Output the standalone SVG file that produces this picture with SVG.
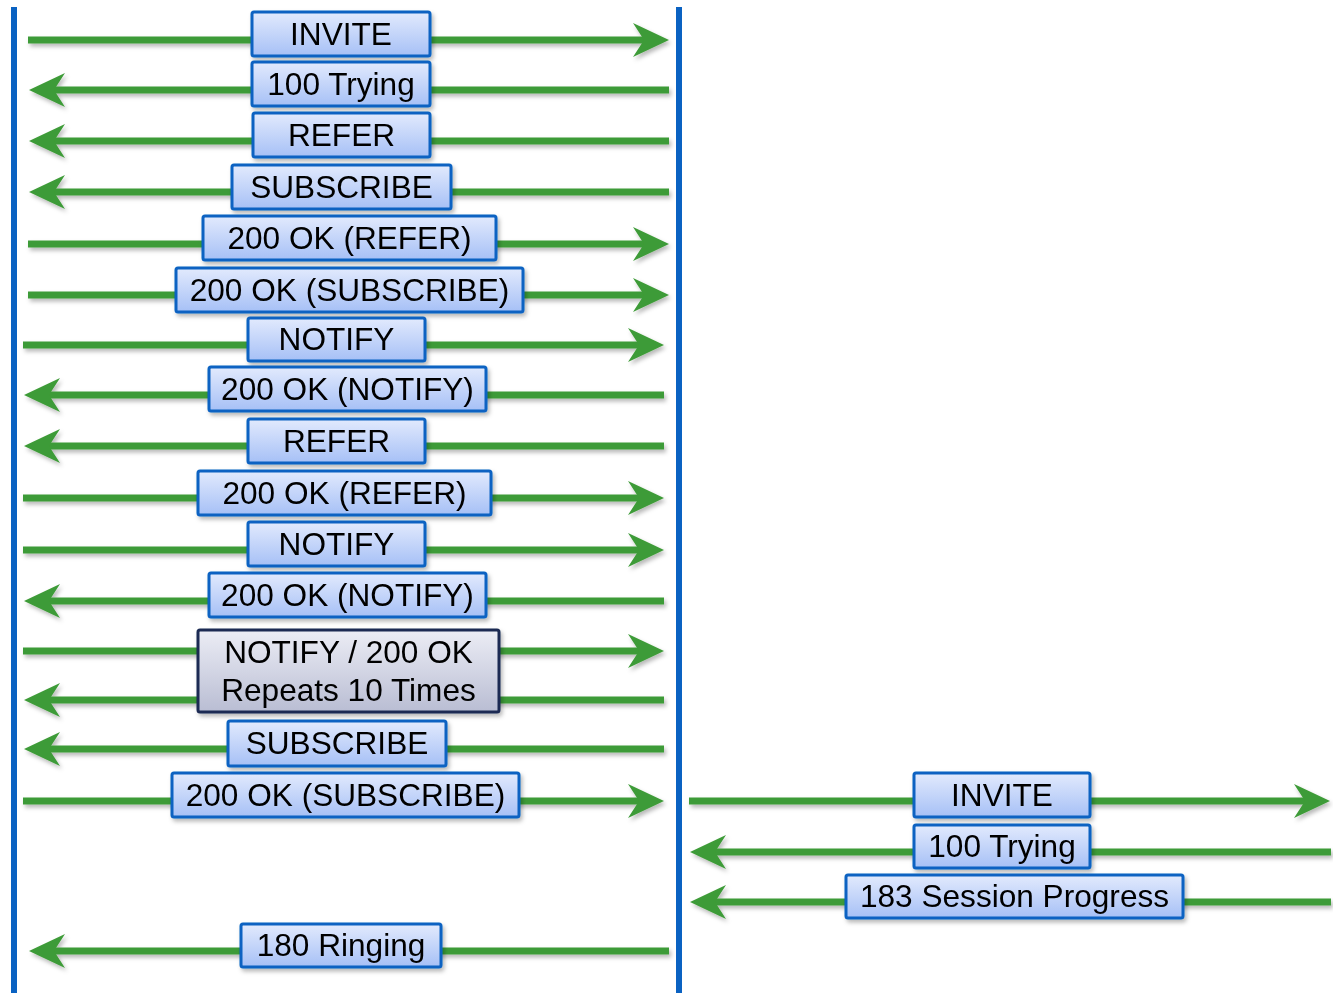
<svg xmlns="http://www.w3.org/2000/svg" width="1333" height="993" viewBox="0 0 1333 993">
<defs>
<linearGradient id="gBlue" x1="0" y1="0" x2="0" y2="1">
<stop offset="0" stop-color="#e2eafd"/>
<stop offset="1" stop-color="#a6c0f6"/>
</linearGradient>
<linearGradient id="gGray" x1="0" y1="0" x2="0" y2="1">
<stop offset="0" stop-color="#ecedf5"/>
<stop offset="1" stop-color="#b9bdd3"/>
</linearGradient>
<filter id="sh" x="-10%" y="-30%" width="130%" height="190%">
<feDropShadow dx="2" dy="3" stdDeviation="2" flood-color="#000" flood-opacity="0.28"/>
</filter>
<marker id="ah" viewBox="0 0 36 34" refX="14" refY="17" markerWidth="36" markerHeight="34" markerUnits="userSpaceOnUse" orient="auto">
<path d="M0,0 L36,17 L0,34 L11,17 Z" fill="#3e9b37"/>
</marker>
</defs>
<style>
.life{stroke:#0a62c2;stroke-width:6;fill:none}
.msg{stroke:#3e9b37;stroke-width:7;fill:none}
.arr{marker-end:url(#ah)}
.box{fill:url(#gBlue);stroke:#0a62c2;stroke-width:3}
.gbox{fill:url(#gGray);stroke:#1b2b52;stroke-width:3}
text{font-family:"Liberation Sans",Arial,sans-serif;font-size:31.6px;fill:#000;text-anchor:middle}
</style>
<rect width="1333" height="993" fill="#fff"/>
<g id="lifelines">
<line class="life" x1="14" y1="7" x2="14" y2="993"/>
<line class="life" x1="679" y1="7" x2="679" y2="993"/>
</g>
<g id="connectors" filter="url(#sh)">
<line class="msg arr" x1="28" y1="40" x2="647" y2="40"/>
<line class="msg arr" x1="669" y1="90" x2="51" y2="90"/>
<line class="msg arr" x1="669" y1="141" x2="51" y2="141"/>
<line class="msg arr" x1="669" y1="192" x2="51" y2="192"/>
<line class="msg arr" x1="28" y1="244" x2="647" y2="244"/>
<line class="msg arr" x1="28" y1="295" x2="647" y2="295"/>
<line class="msg arr" x1="23" y1="345" x2="642" y2="345"/>
<line class="msg arr" x1="664" y1="395" x2="46" y2="395"/>
<line class="msg arr" x1="664" y1="446" x2="46" y2="446"/>
<line class="msg arr" x1="23" y1="498" x2="642" y2="498"/>
<line class="msg arr" x1="23" y1="550" x2="642" y2="550"/>
<line class="msg arr" x1="664" y1="601" x2="46" y2="601"/>
<line class="msg arr" x1="23" y1="651" x2="642" y2="651"/>
<line class="msg arr" x1="664" y1="700" x2="46" y2="700"/>
<line class="msg arr" x1="664" y1="749" x2="46" y2="749"/>
<line class="msg arr" x1="23" y1="801" x2="642" y2="801"/>
<line class="msg arr" x1="669" y1="951" x2="51" y2="951"/>
<line class="msg arr" x1="689" y1="801" x2="1308" y2="801"/>
<line class="msg arr" x1="1331" y1="852" x2="712" y2="852"/>
<line class="msg arr" x1="1331" y1="902" x2="712" y2="902"/>
</g>
<g id="n1" filter="url(#sh)"><rect class="box" x="252" y="12" width="178" height="44" rx="2"/><text x="341" y="45">INVITE</text></g>
<g id="n2" filter="url(#sh)"><rect class="box" x="252" y="62" width="178" height="44" rx="2"/><text x="341" y="95">100 Trying</text></g>
<g id="n3" filter="url(#sh)"><rect class="box" x="253" y="113" width="177" height="44" rx="2"/><text x="341.5" y="146">REFER</text></g>
<g id="n4" filter="url(#sh)"><rect class="box" x="232" y="165" width="219" height="44" rx="2"/><text x="341.5" y="198">SUBSCRIBE</text></g>
<g id="n5" filter="url(#sh)"><rect class="box" x="203" y="216" width="293" height="44" rx="2"/><text x="349.5" y="249">200 OK (REFER)</text></g>
<g id="n6" filter="url(#sh)"><rect class="box" x="176" y="268" width="347" height="44" rx="2"/><text x="349.5" y="301">200 OK (SUBSCRIBE)</text></g>
<g id="n7" filter="url(#sh)"><rect class="box" x="248" y="318" width="177" height="43" rx="2"/><text x="336.5" y="350">NOTIFY</text></g>
<g id="n8" filter="url(#sh)"><rect class="box" x="209" y="367" width="277" height="44" rx="2"/><text x="347.5" y="400">200 OK (NOTIFY)</text></g>
<g id="n9" filter="url(#sh)"><rect class="box" x="248" y="419" width="177" height="44" rx="2"/><text x="336.5" y="452">REFER</text></g>
<g id="n10" filter="url(#sh)"><rect class="box" x="198" y="471" width="293" height="44" rx="2"/><text x="344.5" y="504">200 OK (REFER)</text></g>
<g id="n11" filter="url(#sh)"><rect class="box" x="248" y="522" width="177" height="44" rx="2"/><text x="336.5" y="555">NOTIFY</text></g>
<g id="n12" filter="url(#sh)"><rect class="box" x="209" y="573" width="277" height="44" rx="2"/><text x="347.5" y="606">200 OK (NOTIFY)</text></g>
<g id="n13" filter="url(#sh)"><rect class="gbox" x="198" y="630" width="301" height="82" rx="2"/><text x="348.5" y="663">NOTIFY / 200 OK</text><text x="348.5" y="701">Repeats 10 Times</text></g>
<g id="n14" filter="url(#sh)"><rect class="box" x="228" y="721" width="218" height="45" rx="2"/><text x="337" y="754">SUBSCRIBE</text></g>
<g id="n15" filter="url(#sh)"><rect class="box" x="172" y="773" width="347" height="44" rx="2"/><text x="345.5" y="806">200 OK (SUBSCRIBE)</text></g>
<g id="n16" filter="url(#sh)"><rect class="box" x="241" y="924" width="200" height="43" rx="2"/><text x="341" y="956">180 Ringing</text></g>
<g id="n17" filter="url(#sh)"><rect class="box" x="914" y="773" width="176" height="44" rx="2"/><text x="1002" y="806">INVITE</text></g>
<g id="n18" filter="url(#sh)"><rect class="box" x="914" y="825" width="176" height="43" rx="2"/><text x="1002" y="857">100 Trying</text></g>
<g id="n19" filter="url(#sh)"><rect class="box" x="846" y="875" width="337" height="43" rx="2"/><text x="1014.5" y="907">183 Session Progress</text></g>
</svg>
